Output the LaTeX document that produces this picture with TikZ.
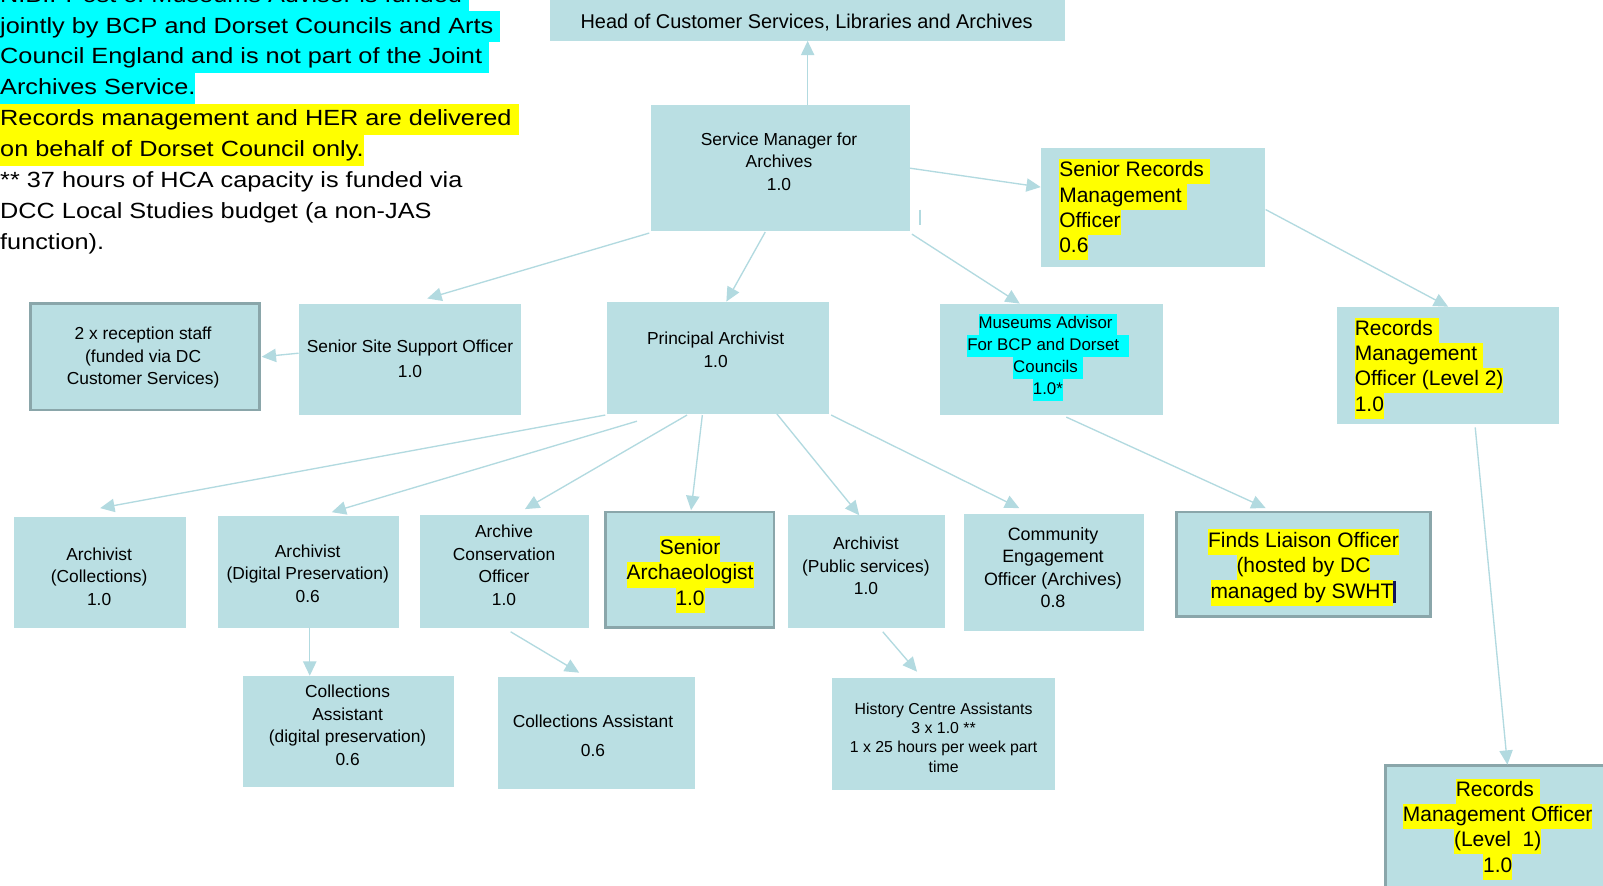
\documentclass[tikz,border=0pt]{standalone}
\usepackage{fontspec}
\setmainfont{Liberation Sans}
\newfontfamily\notefont[FakeStretch=1.15]{Liberation Sans}
\usetikzlibrary{arrows.meta,calc}
\definecolor{boxfill}{RGB}{186,223,227}
\definecolor{boxline}{RGB}{138,166,170}
\definecolor{linecol}{RGB}{178,218,224}
\definecolor{hlyellow}{RGB}{255,255,0}
\definecolor{hlcyan}{RGB}{0,255,255}
\definecolor{cursorcol}{RGB}{20,20,90}
\newcommand{\hlb}[2]{{\setlength{\fboxsep}{0pt}\colorbox{#1}{\strut #2}}}
\newcommand{\hly}[1]{\hlb{hlyellow}{#1}}
\newcommand{\hlc}[1]{\hlb{hlcyan}{#1}}
\newcommand{\orgbox}[6][box]{\node[#1, minimum width={#5-#3}, minimum height={#6-#4}] (#2) at ({(#3+#5)/2},{-(#4+#6)/2}) {};}
\tikzset{
  box/.style={rectangle, fill=boxfill, draw=none, inner sep=0pt, outer sep=0pt},
  bbox/.style={box, draw=boxline, line width=2.5pt},
  arr/.style={draw=linecol, line width=1.3pt, -{Triangle[width=13pt,length=14pt]}},
  txt/.style={inner sep=0pt, align=center, font=\fontsize{17}{22}\selectfont},
  hltxt/.style={inner sep=0pt},
  notel/.style={inner sep=0pt, anchor=base west, font=\notefont\fontsize{21.5}{30.3}\selectfont},
}
\begin{document}
\begin{tikzpicture}[x=1pt,y=1pt]
\useasboundingbox (0,0) rectangle (1568,-866);
\clip (0,0) rectangle (1568,-866);
\fill[white] (0,0) rectangle (1568,-866);

% boxes
\orgbox{head}{538}{-5}{1042}{40}
\orgbox{sm}{637}{103}{890}{226}
\orgbox{srmo}{1018}{145}{1237}{261}
\orgbox[bbox]{rec}{30}{297}{254}{401}
\orgbox{ssso}{292}{297}{510}{406}
\orgbox{pa}{594}{295}{811}{405}
\orgbox{ma}{919}{297}{1138}{406}
\orgbox{rmo2}{1308}{300}{1525}{415}
\orgbox{ac}{14}{506}{182}{614}
\orgbox{adp}{213}{505}{390}{614}
\orgbox{aco}{411}{504}{576}{614}
\orgbox[bbox]{sa}{592}{501}{757}{614}
\orgbox{aps}{771}{504}{924}{614}
\orgbox{ceo}{943}{503}{1119}{617}
\orgbox[bbox]{fl}{1151}{501}{1399}{603}
\orgbox{cadp}{238}{661}{444}{770}
\orgbox{ca}{487}{662}{680}{772}
\orgbox{hca}{814}{663}{1032}{773}
\orgbox[bbox]{rmo1}{1355}{749}{1585}{885}

% note text
\node[notel] (n0) at (0,-2) {\hlc{N.B.: Post of Museums Advisor is funded\ }};
\node[notel] (n1) at (0,-32.3) {\hlc{jointly by BCP and Dorset Councils and Arts\ }};
\node[notel] (n2) at (0,-62.6) {\hlc{Council England and is not part of the Joint\ }};
\node[notel] (n3) at (0,-92.9) {\hlc{Archives Service.}};
\node[notel] (n4) at (0,-123.2) {\hly{Records management and HER are delivered\ }};
\node[notel] (n5) at (0,-153.5) {\hly{on behalf of Dorset Council only.}};
\node[notel] (n6) at (0,-183.8) {** 37 hours of HCA capacity is funded via};
\node[notel] (n7) at (0,-214.1) {DCC Local Studies budget (a non-JAS};
\node[notel] (n8) at (0,-244.4) {function).};

% plain texts
\node[txt, font=\fontsize{19.5}{24}\selectfont] (head-t) at (789,-22) {Head of Customer Services, Libraries and Archives};
\node[txt] (sm-t) at (762,-158) {Service Manager for\\Archives\\1.0};
\node[txt] (rec-t) at (140,-350) {2 x reception staff\\(funded via DC\\Customer Services)};
\node[txt, font=\fontsize{17}{24}\selectfont] (ssso-t) at (401,-351) {Senior Site Support Officer\\1.0};
\node[txt] (pa-t) at (700,-342) {Principal Archivist\\1.0};
\node[txt] (ac-t) at (97,-564) {Archivist\\(Collections)\\1.0};
\node[txt] (adp-t) at (301,-561) {Archivist\\(Digital Preservation)\\0.6};
\node[txt] (aco-t) at (493,-553) {Archive\\Conservation\\Officer\\1.0};
\node[txt] (aps-t) at (847,-553.5) {Archivist\\(Public services)\\1.0};
\node[txt, font=\fontsize{17.5}{22}\selectfont] (ceo-t) at (1030,-555) {Community\\Engagement\\Officer (Archives)\\0.8};
\node[txt] (cadp-t) at (340,-709.5) {Collections\\Assistant\\(digital preservation)\\0.6};
\node[txt, font=\fontsize{17}{28}\selectfont] (ca-t) at (580,-720) {Collections Assistant\\0.6};
\node[txt, font=\fontsize{15.5}{19}\selectfont] (hca-t) at (923,-721.5) {History Centre Assistants\\3 x 1.0 **\\1 x 25 hours per week part\\time};

% highlighted texts
\node[hltxt, anchor=north west, align=left, font=\fontsize{20.5}{24.7}\selectfont] (srmo-t) at (1036,-155.5) {\hly{Senior Records\ }\\\hly{Management\ }\\\hly{Officer}\\\hly{0.6}};
\node[hltxt, anchor=north west, align=left, font=\fontsize{20.5}{24.7}\selectfont] (rmo2-t) at (1325,-310.5) {\hly{Records\ }\\\hly{Management\ }\\\hly{Officer (Level 2)}\\\hly{1.0}};
\node[hltxt, anchor=north, align=center, font=\fontsize{20.5}{24.7}\selectfont] (rmo1-t) at (1465,-761.5) {\hly{Records\ }\\\hly{Management Officer}\\\hly{(Level~ 1)}\\\hly{1.0}};
\node[hltxt, anchor=north, align=center, font=\fontsize{20.5}{25}\selectfont] (fl-t) at (1275,-517.5) {\hly{Finds Liaison Officer}\\\hly{(hosted by DC}\\\hly{managed by SWHT}\textcolor{cursorcol}{\rule[-5pt]{3pt}{22pt}}};
\node[hltxt, anchor=north, align=center, font=\fontsize{20.5}{25}\selectfont] (sa-t) at (675,-524.5) {\hly{Senior}\\\hly{Archaeologist}\\\hly{1.0}};
\node[hltxt, anchor=north, align=center, font=\fontsize{16.5}{21.3}\selectfont] (ma-t) at (1025,-306.5) {\hlc{Museums Advisor\ }\\\hlc{For BCP and Dorset\ \ }\\\hlc{Councils\ }\\\hlc{1.0*}};

% connectors
\draw[arr] (sm.north -| head.south) -- (head.south);
\draw[arr] (sm.east) -- ([yshift=20]srmo.west);
\draw[arr] ([xshift=-2,yshift=-2]sm.south west) -- ([xshift=17,yshift=5]ssso.north);
\draw[arr] ([xshift=-15,yshift=-1]sm.south) -- ([xshift=8]pa.north);
\draw[arr] ([xshift=2,yshift=-3]sm.south east) -- ([xshift=-31]ma.north);
\draw[arr] ([xshift=1,yshift=-2]srmo.east) -- (rmo2.north);
\draw[arr] ([xshift=26.5,yshift=-3]rmo2.south) -- ([xshift=4.5,yshift=1]rmo1.north);
\draw[arr] ([yshift=6]ssso.west) -- ([xshift=2]rec.east);
\draw[arr] ([xshift=14.5,yshift=-2]ma.south) -- ([xshift=-37,yshift=4]fl.north);
\draw[arr] ([xshift=-2,yshift=-1]pa.south west) -- ([yshift=9]ac.north);
\draw[arr] ([xshift=29,yshift=-7]pa.south west) -- ([xshift=23,yshift=4]adp.north);
\draw[arr] ([xshift=-30.5,yshift=-1]pa.south) -- ([xshift=20,yshift=6]aco.north);
\draw[arr] ([xshift=-15.5,yshift=-1]pa.south) -- ([xshift=1.5,yshift=2]sa.north);
\draw[arr] ([xshift=57.5]pa.south) -- ([xshift=-7]aps.north);
\draw[arr] ([xshift=2,yshift=-1]pa.south east) -- ([xshift=-34,yshift=6]ceo.north);
\draw[arr] ([xshift=1.5]adp.south) -- ([xshift=1.5]adp.south |- cadp.north);
\draw[arr] ([xshift=6,yshift=-4]aco.south) -- ([xshift=-17,yshift=4]ca.north);
\draw[arr] ([xshift=16,yshift=-4]aps.south) -- ([xshift=-26,yshift=6]hca.north);

% stray mark beside the service manager box
\coordinate (mk1) at (900,-205);
\coordinate (mk2) at (900,-220);
\draw[linecol, line width=1.5pt] (mk1) -- (mk2);
\end{tikzpicture}
\end{document}
